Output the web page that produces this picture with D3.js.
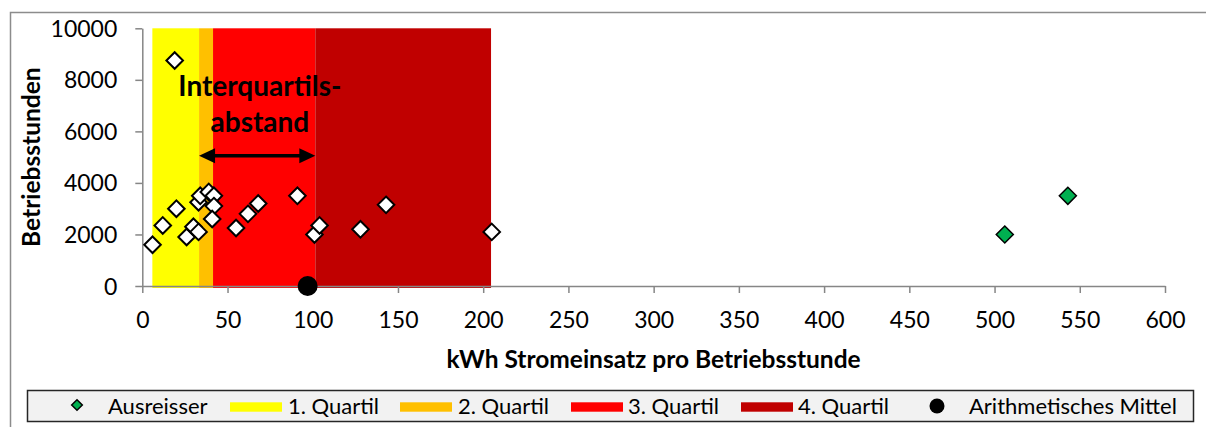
<!DOCTYPE html>
<html>
<head>
<meta charset="utf-8">
<script src="https://cdn.jsdelivr.net/npm/d3@7"></script>
<style>
  html, body { margin: 0; padding: 0; background: #fff; }
  svg { display: block; font-family: Lato, "Open Sans", sans-serif; }
</style>
</head>
<body>
<svg id="chart" width="1206" height="427"></svg>
<script>
// Stromeinsatz (kWh) pro Betriebsstunde vs. Betriebsstunden
const kwhPerHour = [6, 12, 19, 20, 26, 30, 33, 33, 34, 39, 42, 42, 41, 55, 62, 68, 91, 101, 104, 128, 143, 205];
const hours      = [1600, 2350, 8750, 3000, 1900, 2300, 2100, 3250, 3500, 3650, 3500, 3100, 2600, 2250, 2800, 3200, 3500, 2000, 2350, 2200, 3150, 2100];

// Ausreisser
const outlierKwh   = [506, 543];
const outlierHours = [2000, 3500];

// Quartilsgrenzen: Minimum, Q1, Median, Q3, Maximum
const quartileBounds = [5.9, 33.3, 41.5, 101.5, 204.6];
const quartileNames  = ["1. Quartil", "2. Quartil", "3. Quartil", "4. Quartil"];
const quartileColors = ["#ffff00", "#ffc000", "#ff0000", "#c00000"];

// Arithmetisches Mittel
const meanKwh = 97;
const meanHours = 0;

// Achsenbeschriftung
const xTicks = [0, 50, 100, 150, 200, 250, 300, 350, 400, 450, 500, 550, 600];
const yTicks = [0, 2000, 4000, 6000, 8000, 10000];
const xTitle = "kWh Stromeinsatz pro Betriebsstunde";
const yTitle = "Betriebsstunden";
const iqrLabel = ["Interquartils-", "abstand"];
const iqrLabelPos = { x: 69, y: [7354, 5995] };
const iqrArrowHours = 5050;

const svg = d3.select("#chart");

// Outer chart frame
svg.append("rect")
  .attr("x", 10.5).attr("y", 12.5)
  .attr("width", 1220).attr("height", 440)
  .attr("fill", "none").attr("stroke", "#8c8c8c").attr("stroke-width", 1.5);

const x = d3.scaleLinear().domain([0, 600]).range([142.3, 1165]);
const y = d3.scaleLinear().domain([0, 10000]).range([286, 28.3]);

// Quartile bands
const bands = quartileColors.map((c, i) => ({ x0: quartileBounds[i], x1: quartileBounds[i + 1], color: c }));
svg.append("g").selectAll("rect").data(bands).join("rect")
  .attr("x", d => x(d.x0))
  .attr("width", d => x(d.x1) - x(d.x0))
  .attr("y", y(10000))
  .attr("height", y(0) - y(10000) + 2)
  .attr("fill", d => d.color);

// Axes
const axisColor = "#868686";
const fmt = d3.format("d");
const gx = svg.append("g").attr("transform", `translate(0,${y(0)})`)
  .call(d3.axisBottom(x).tickValues(xTicks).tickFormat(fmt).tickSize(7).tickSizeOuter(0));
gx.select(".domain").attr("stroke", axisColor).attr("stroke-width", 1.5);
gx.selectAll(".tick line").attr("stroke", axisColor).attr("stroke-width", 1.5);
gx.selectAll(".tick text").attr("y", 42).attr("dy", 0)
  .attr("font-size", 23).attr("fill", "#000").attr("font-family", "Lato, sans-serif");

const gy = svg.append("g").attr("transform", `translate(${x(0)},0)`)
  .call(d3.axisLeft(y).tickValues(yTicks).tickFormat(fmt).tickSize(7).tickSizeOuter(0));
gy.select(".domain").attr("stroke", axisColor).attr("stroke-width", 1.5);
gy.selectAll(".tick line").attr("stroke", axisColor).attr("stroke-width", 1.5);
gy.selectAll(".tick text").attr("x", -25).attr("dy", "0.35em")
  .attr("font-size", 23).attr("fill", "#000").attr("font-family", "Lato, sans-serif");

// Axis titles
svg.append("text")
  .attr("x", (x(0) + x(600)) / 2).attr("y", 368)
  .attr("text-anchor", "middle").attr("font-weight", "bold").attr("font-size", 24.5)
  .text(xTitle);
svg.append("text")
  .attr("transform", `translate(40,${(y(0) + y(10000)) / 2}) rotate(-90)`)
  .attr("text-anchor", "middle").attr("font-weight", "bold").attr("font-size", 24.5)
  .text(yTitle);

// Interquartile annotation
svg.append("g").selectAll("text").data(iqrLabel).join("text")
  .attr("x", x(iqrLabelPos.x))
  .attr("y", (d, i) => y(iqrLabelPos.y[i]))
  .attr("text-anchor", "middle").attr("font-weight", "bold").attr("font-size", 28)
  .text(d => d);

const ay = y(iqrArrowHours);
const ax0 = x(quartileBounds[1]), ax1 = x(quartileBounds[3]);
const headLen = 16, headHalf = 7.5;
svg.append("line")
  .attr("x1", ax0 + headLen - 2).attr("x2", ax1 - headLen + 2)
  .attr("y1", ay).attr("y2", ay)
  .attr("stroke", "#000").attr("stroke-width", 3.5);
svg.append("path")
  .attr("d", `M${ax0},${ay} L${ax0 + headLen},${ay - headHalf} L${ax0 + headLen},${ay + headHalf} Z`)
  .attr("fill", "#000");
svg.append("path")
  .attr("d", `M${ax1},${ay} L${ax1 - headLen},${ay - headHalf} L${ax1 - headLen},${ay + headHalf} Z`)
  .attr("fill", "#000");

// Data points (diamonds)
const diamond = d3.symbol().type(d3.symbolDiamond2);
const pts = kwhPerHour.map((v, i) => ({ x: v, y: hours[i] }));
svg.append("g").selectAll("path").data(pts).join("path")
  .attr("transform", d => `translate(${x(d.x)},${y(d.y)})`)
  .attr("d", diamond.size(175)())
  .attr("fill", "#fff").attr("stroke", "#000").attr("stroke-width", 2);

const outs = outlierKwh.map((v, i) => ({ x: v, y: outlierHours[i] }));
svg.append("g").selectAll("path").data(outs).join("path")
  .attr("transform", d => `translate(${x(d.x)},${y(d.y)})`)
  .attr("d", diamond.size(185)())
  .attr("fill", "#00b050").attr("stroke", "#000").attr("stroke-width", 1.5);

// Mean
svg.append("circle")
  .attr("cx", x(meanKwh)).attr("cy", y(meanHours)).attr("r", 10)
  .attr("fill", "#000");

// Legend
const lg = svg.append("g");
lg.append("rect")
  .attr("x", 27.5).attr("y", 390.5).attr("width", 1166).attr("height", 31)
  .attr("fill", "#f2f2f2").attr("stroke", "#262626").attr("stroke-width", 1.5);

const legendY = 406;
const textY = 413.5;
lg.append("path")
  .attr("transform", `translate(77,${legendY - 1})`)
  .attr("d", d3.symbol().type(d3.symbolDiamond2).size(72)())
  .attr("fill", "#00b050").attr("stroke", "#000").attr("stroke-width", 1.5);
lg.append("text").attr("x", 108).attr("y", textY).attr("font-size", 22).text("Ausreisser");

const swatchX = [230, 400, 571, 741];
const labelX = [288, 458, 628, 798];
quartileNames.forEach((name, i) => {
  lg.append("rect")
    .attr("x", swatchX[i]).attr("y", 402.3).attr("width", 52).attr("height", 9.4)
    .attr("fill", quartileColors[i]);
  lg.append("text").attr("x", labelX[i]).attr("y", textY).attr("font-size", 22).text(name);
});

lg.append("circle").attr("cx", 937).attr("cy", legendY).attr("r", 7.5).attr("fill", "#000");
lg.append("text").attr("x", 969).attr("y", textY).attr("font-size", 22).text("Arithmetisches Mittel");
</script>
</body>
</html>
